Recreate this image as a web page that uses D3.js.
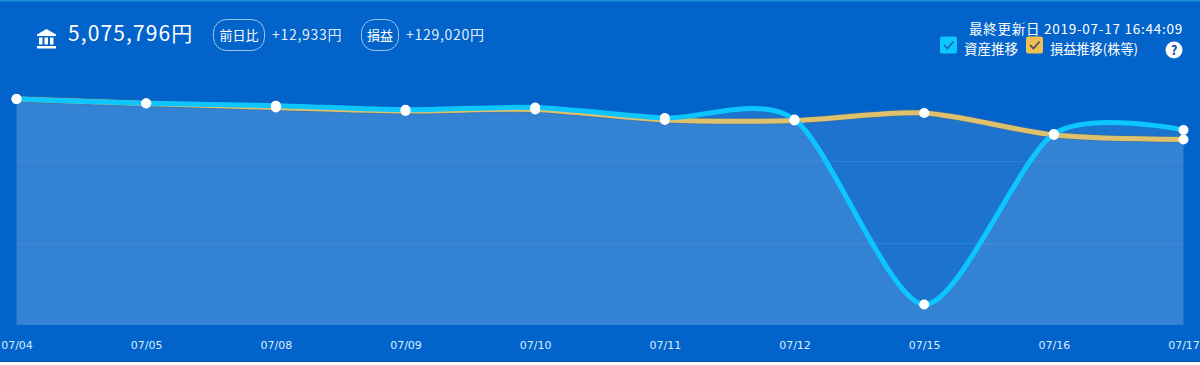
<!DOCTYPE html>
<html>
<head>
<meta charset="utf-8">
<script src="https://cdn.jsdelivr.net/npm/d3@7"></script>
<style>
  html, body { margin: 0; padding: 0; background: #fff; }
  svg { display: block; }
  text { font-family: "Noto Sans CJK JP", "Noto Sans", sans-serif; fill: #fff; }
</style>
</head>
<body>
<svg width="1200" height="365"></svg>
<script>
const dates = ["07/04", "07/05", "07/08", "07/09", "07/10", "07/11", "07/12", "07/15", "07/16", "07/17"];
// 資産推移
const assets = [5151000, 5141000, 5135000, 5125000, 5130500, 5105000, 5101200, 4650000, 5066000, 5075796];
// 損益推移(株等)
const profits = [227800, 216800, 207070, 198530, 202190, 176580, 175360, 193650, 140000, 129020];
const gridTicks = [5000000, 4800000];

const colorAssets = "#0dc5ff";
const colorProfits = "#dfc16c";

const svg = d3.select("svg");

// 背景
svg.append("rect").attr("width", 1200).attr("height", 362).attr("fill", "#0264ca");
svg.append("rect").attr("width", 1200).attr("height", 1.5).attr("fill", "#1d8fd8");
svg.append("rect").attr("y", 361).attr("width", 1200).attr("height", 1).attr("fill", "#0a4f9c");

const scaleX = d3.scalePoint().domain(dates).range([16.5, 1183.5]);
const scaleY = d3.scaleLinear().domain([4600000, 5000000]).range([325, 161]);
// 損益は基準が別
const scaleP = d3.scaleLinear().domain([42435, 469261]).range([175, 0]);

const rows = dates.map((d, i) => ({ date: d, asset: assets[i], profit: profits[i] }));
const curve = d3.curveCardinal.tension(0.2);

const areaAssets = d3.area().x(d => scaleX(d.date)).y0(325).y1(d => scaleY(d.asset)).curve(curve);
const areaProfits = d3.area().x(d => scaleX(d.date)).y0(325).y1(d => scaleP(d.profit)).curve(curve);
const lineAssets = d3.line().x(d => scaleX(d.date)).y(d => scaleY(d.asset)).curve(curve);
const lineProfits = d3.line().x(d => scaleX(d.date)).y(d => scaleP(d.profit)).curve(curve);

svg.append("path").attr("d", areaProfits(rows)).attr("fill", "#fff").attr("fill-opacity", 0.105);
svg.append("path").attr("d", areaAssets(rows)).attr("fill", "#fff").attr("fill-opacity", 0.105);

// 目盛線
svg.append("g")
    .attr("transform", "translate(16.5,0)")
    .call(d3.axisLeft(scaleY).tickValues(gridTicks).tickSize(-1167).tickFormat(""))
    .call(g => g.select(".domain").remove())
    .selectAll("line").attr("stroke", "#fff").attr("stroke-opacity", 0.08);

// 線
svg.append("path").attr("d", lineProfits(rows)).attr("fill", "none")
    .attr("stroke", "#4a6f8e").attr("stroke-opacity", 0.5).attr("stroke-width", 7);
svg.append("path").attr("d", lineProfits(rows)).attr("fill", "none")
    .attr("stroke", colorProfits).attr("stroke-width", 5);
svg.append("path").attr("d", lineAssets(rows)).attr("fill", "none")
    .attr("stroke", colorAssets).attr("stroke-width", 5);

// 点
svg.selectAll(".dot-p").data(rows).enter().append("circle")
    .attr("class", "dot-p").attr("r", 5).attr("fill", "#fff")
    .attr("cx", d => scaleX(d.date)).attr("cy", d => scaleP(d.profit));
svg.selectAll(".dot-a").data(rows).enter().append("circle")
    .attr("class", "dot-a").attr("r", 5).attr("fill", "#fff")
    .attr("cx", d => scaleX(d.date)).attr("cy", d => scaleY(d.asset));

// X軸
svg.append("g")
    .attr("transform", "translate(0,347)")
    .call(d3.axisBottom(scaleX).tickSize(0).tickPadding(-6))
    .call(g => g.select(".domain").remove())
    .selectAll("text")
    .style("font-family", "'DejaVu Sans', sans-serif")
    .style("font-size", "11px")
    .style("fill", "#d9ecff");

// 銀行アイコン
const icon = svg.append("g").attr("fill", "#fff").attr("transform", "translate(37,29)");
icon.append("path").attr("d", "M9.5 0 L19 5.5 V7 H0 V5.5 Z");
[2, 7.5, 13].forEach(x => icon.append("rect").attr("x", x).attr("y", 8.5).attr("width", 3.5).attr("height", 7));
icon.append("rect").attr("x", 0).attr("y", 17).attr("width", 19).attr("height", 2.5);

svg.append("text").attr("x", 68).attr("y", 41).attr("font-size", 21).attr("letter-spacing", 1.1)
    .attr("font-family", "Open Sans").text("5,075,796円");

function badge(x, w, label) {
    svg.append("rect").attr("x", x).attr("y", 19.5).attr("width", w).attr("height", 31).attr("rx", 13)
        .attr("fill", "none").attr("stroke", "#9cc6f0").attr("stroke-width", 1);
    svg.append("text").attr("x", x + w / 2).attr("y", 40).attr("font-size", 13)
        .attr("text-anchor", "middle").text(label);
}
badge(213.5, 51, "前日比");
svg.append("text").attr("x", 272).attr("y", 39.5).attr("font-size", 14).attr("letter-spacing", 0.7).attr("fill-opacity", 0.9).text("+12,933円");
badge(361.5, 37, "損益");
svg.append("text").attr("x", 406).attr("y", 39.5).attr("font-size", 14).attr("letter-spacing", 0.7).attr("fill-opacity", 0.9).text("+129,020円");

svg.append("text").attr("x", 1183).attr("y", 34).attr("font-size", 13.5).attr("letter-spacing", 0.75).attr("text-anchor", "end")
    .text("最終更新日 2019-07-17 16:44:09");

// 凡例
function legendBox(x, color, tick) {
    svg.append("rect").attr("x", x).attr("y", 36.5).attr("width", 17).attr("height", 17).attr("rx", 2).attr("fill", color);
    svg.append("path").attr("d", `M${x + 4} ${45} l3.5 3.5 l6 -7`).attr("fill", "none").attr("stroke", tick).attr("stroke-width", 1.6);
}
legendBox(940, colorAssets, "#1566b8");
svg.append("text").attr("x", 964).attr("y", 54).attr("font-size", 13.5).text("資産推移");
legendBox(1026, "#edbf55", "#3f4a55");
svg.append("text").attr("x", 1050).attr("y", 54).attr("font-size", 13.2).text("損益推移(株等)");

svg.append("circle").attr("cx", 1174).attr("cy", 50).attr("r", 8.5).attr("fill", "#fff");
svg.append("text").attr("x", 1174).attr("y", 55).attr("font-size", 13).attr("font-weight", "bold")
    .attr("text-anchor", "middle").style("fill", "#0b4f9e").text("?");
</script>
</body>
</html>
